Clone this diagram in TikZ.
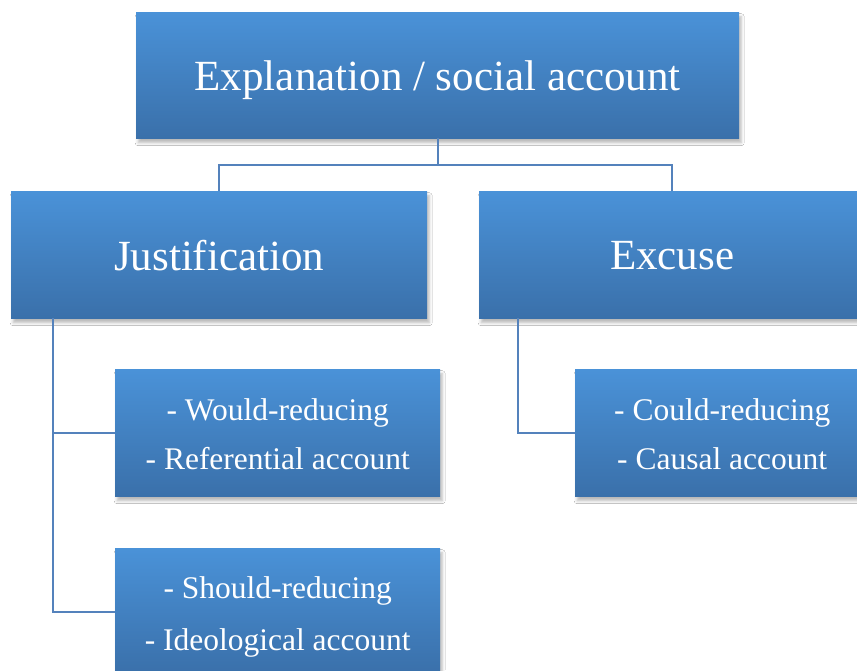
\documentclass[tikz,border=0pt]{standalone}
\usepackage{fontspec}
\setmainfont{Liberation Serif}
\usetikzlibrary{shadows.blur}
\definecolor{boxtop}{RGB}{74,146,216}
\definecolor{boxbot}{RGB}{58,112,170}
\definecolor{linkblue}{RGB}{84,130,188}
\tikzset{
  card/.style={rectangle, anchor=north west, inner sep=0pt,
    top color=boxtop, bottom color=boxbot, draw=none,
    blur shadow={shadow xshift=2pt, shadow yshift=-4.5pt, shadow blur radius=3pt, shadow opacity=28}},
  cardtext/.style={text=white, align=center, inner sep=0pt},
  bigtext/.style={cardtext, font=\fontsize{43}{50}\selectfont, yshift=-5pt},
  smalltext/.style={cardtext, font=\fontsize{31.5}{49}\selectfont, yshift=-2pt},
  link/.style={draw=linkblue, line width=1.6pt}
}
\begin{document}
\begin{tikzpicture}[x=1pt,y=-1pt]
\useasboundingbox (0,0) rectangle (857,670);
\clip (0,0) rectangle (857,670);
\fill[white] (0,0) rectangle (857,670);

% boxes
\coordinate (bar) at (0,165);
\node[card, minimum width=603pt, minimum height=126pt,
  label={[bigtext]center:Explanation / social account}] (root) at (136,12) {};
\node[card, minimum width=416pt, minimum height=127pt,
  label={[bigtext, yshift=4.5pt]center:Justification}] (just) at (11,191) {};
\node[card, minimum width=386pt, minimum height=127pt,
  label={[bigtext, yshift=4.5pt]center:Excuse}] (excuse) at (479,191) {};
\node[card, minimum width=325pt, minimum height=127pt,
  label={[smalltext]center:- Would-reducing\\- Referential account}] (would) at (115,369) {};
\node[card, minimum width=325pt, minimum height=125pt,
  label={[smalltext, font=\fontsize{31.5}{52}\selectfont, yshift=-4.5pt]center:- Should-reducing\\- Ideological account}] (should) at (115,548) {};
\node[card, minimum width=294pt, minimum height=127pt,
  label={[smalltext]center:- Could-reducing\\- Causal account}] (could) at (575,369) {};

% connectors
\draw[link] (root.south) -- (root.south |- bar) -| (just.north);
\draw[link] (root.south |- bar) -| (excuse.north);
\coordinate (jtrunk) at ([xshift=42pt]just.south west);
\coordinate (etrunk) at ([xshift=39pt]excuse.south west);
\draw[link] (jtrunk) |- (would.west);
\draw[link] (jtrunk) |- ([yshift=-1.5pt]should.west);
\draw[link] (etrunk) |- (could.west);
\end{tikzpicture}
\end{document}
